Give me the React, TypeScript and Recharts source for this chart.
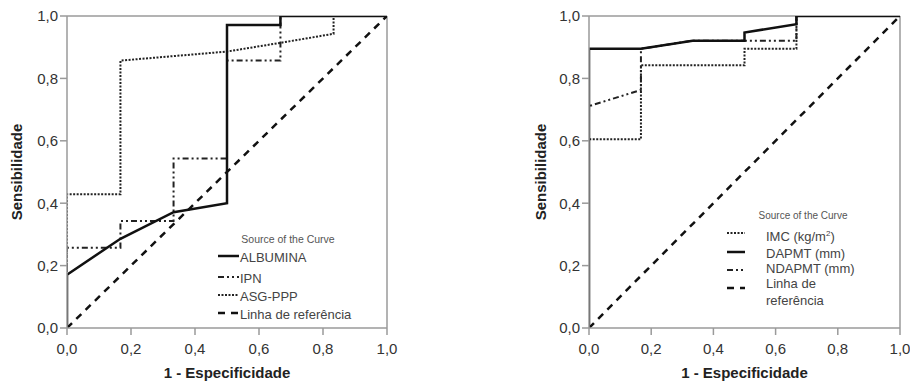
import React from 'react';
import { LineChart, Line, XAxis, YAxis, ReferenceLine, Legend } from 'recharts';

// ---- shared ticks ----
const axisTicks = [0, 0.2, 0.4, 0.6, 0.8, 1];

// ---- left panel ----
const albuminaFpr = [0, 0, 0.167, 0.333, 0.5, 0.5, 0.667, 0.667, 1];
const albuminaTpr = [0, 0.171, 0.286, 0.371, 0.4, 0.971, 0.971, 1, 1];
const ipnFpr = [0, 0, 0.167, 0.167, 0.333, 0.333, 0.5, 0.5, 0.667, 0.667, 1];
const ipnTpr = [0, 0.257, 0.257, 0.343, 0.343, 0.543, 0.543, 0.857, 0.857, 1, 1];
const asgFpr = [0, 0, 0.167, 0.167, 0.5, 0.667, 0.833, 0.833, 1];
const asgTpr = [0, 0.429, 0.429, 0.857, 0.886, 0.914, 0.943, 1, 1];
const refFpr = [0, 1];
const refTpr = [0, 1];

// ---- right panel ----
const imcFpr = [0, 0, 0.167, 0.167, 0.5, 0.5, 0.667, 0.667, 1];
const imcTpr = [0, 0.605, 0.605, 0.842, 0.842, 0.895, 0.895, 1, 1];
const dapmtFpr = [0, 0, 0.167, 0.333, 0.5, 0.5, 0.667, 0.667, 1];
const dapmtTpr = [0, 0.895, 0.895, 0.921, 0.921, 0.947, 0.974, 1, 1];
const ndapmtFpr = [0, 0, 0.167, 0.167, 0.333, 0.667, 0.667, 1];
const ndapmtTpr = [0, 0.711, 0.763, 0.895, 0.921, 0.921, 1, 1];

const legendTitle = 'Source of the Curve';
const leftLabels = ['ALBUMINA', 'IPN', 'ASG-PPP', 'Linha de referência'];
const xTitle = '1 - Especificidade';
const yTitle = 'Sensibilidade';

const zip = (xs: number[], ys: number[]) => xs.map((x, i) => ({ x, y: ys[i] }));

const FONT = '"Liberation Sans", Arial, sans-serif';
const FRAME = '#9a9a9a';

const SOLID = { stroke: '#111', strokeWidth: 2.5 };
const DOTTED = { stroke: '#222', strokeWidth: 2, strokeDasharray: '2 1.5' };
const DASHDOT = { stroke: '#222', strokeWidth: 2, strokeDasharray: '6 3 2 3 2 3' };
const DASHED = { stroke: '#111', strokeWidth: 2.5, strokeDasharray: '7 6' };

const fmt = (v: number) => v.toFixed(1).replace('.', ',');

const tickStyle = { fontSize: 15, fill: '#333', fontFamily: FONT };

const Swatch = ({ x1, x2, y, st }: any) => (
  <line x1={x1} x2={x2} y1={y} y2={y} stroke={st.stroke} strokeWidth={st.strokeWidth} strokeDasharray={st.strokeDasharray} />
);

const LeftLegend = () => {
  const styles = [SOLID, DASHDOT, DOTTED, DASHED];
  const swY = [31, 52, 70, 88];
  const txY = [37, 57.5, 75.5, 93.5];
  return (
    <svg width={170} height={100} style={{ fontFamily: FONT, overflow: 'visible' }}>
      <text x={88} y={18} textAnchor="middle" fontSize={10.5} fill="#555">{legendTitle}</text>
      {leftLabels.map((l, i) => (
        <g key={l}>
          <Swatch x1={18} x2={39} y={swY[i]} st={styles[i]} />
          <text x={40} y={txY[i]} fontSize={13} fill="#444">{l}</text>
        </g>
      ))}
    </svg>
  );
};

const RightLegend = () => {
  const styles = [DOTTED, SOLID, DASHDOT, DASHED];
  const swY = [28, 47, 65, 83];
  return (
    <svg width={180} height={110} style={{ fontFamily: FONT, overflow: 'visible' }}>
      <text x={98} y={14} textAnchor="middle" fontSize={10} fill="#555">{legendTitle}</text>
      {styles.map((s, i) => (
        <Swatch key={i} x1={22} x2={40} y={swY[i]} st={s} />
      ))}
      <text x={61} y={36} fontSize={13} fill="#444">
        IMC (kg/m<tspan dy={-5} fontSize={8}>2</tspan><tspan dy={5}>)</tspan>
      </text>
      <text x={61} y={52.5} fontSize={13} fill="#444">DAPMT (mm)</text>
      <text x={61} y={67.5} fontSize={13} fill="#444">NDAPMT (mm)</text>
      <text x={61} y={83} fontSize={13} fill="#444">Linha de</text>
      <text x={61} y={100} fontSize={13} fill="#444">referência</text>
    </svg>
  );
};

const Panel = ({ width, yAxisWidth, yTitleOffset, series, legend, legendPos }: any) => (
  <LineChart width={width} height={385} margin={{ top: 16, right: width - yAxisWidth - (width === 460 ? 320 : 311), bottom: 0, left: 0 }}>
    <XAxis
      type="number"
      dataKey="x"
      domain={[0, 1]}
      ticks={axisTicks}
      tickFormatter={fmt}
      allowDataOverflow
      height={57}
      tickSize={7}
      tickMargin={8}
      tick={tickStyle}
      axisLine={{ stroke: FRAME, strokeWidth: 1.5 }}
      tickLine={{ stroke: FRAME, strokeWidth: 1.5 }}
      label={{ value: xTitle, position: 'insideBottom', offset: 7, style: { fontSize: 15, fontWeight: 'bold', fill: '#222', fontFamily: FONT } }}
    />
    <YAxis
      type="number"
      dataKey="y"
      domain={[0, 1]}
      ticks={axisTicks}
      tickFormatter={fmt}
      allowDataOverflow
      width={yAxisWidth}
      tickSize={7}
      tickMargin={2}
      tick={tickStyle}
      axisLine={{ stroke: FRAME, strokeWidth: 1.5 }}
      tickLine={{ stroke: FRAME, strokeWidth: 1.5 }}
      label={{ value: yTitle, angle: -90, position: 'insideLeft', offset: yTitleOffset, style: { textAnchor: 'middle', fontSize: 15, fontWeight: 'bold', fill: '#222', fontFamily: FONT } }}
    />
    <ReferenceLine y={1} stroke={FRAME} strokeWidth={1.5} />
    <ReferenceLine x={1} stroke={FRAME} strokeWidth={1.5} />
    {series.map((s: any) => (
      <Line
        key={s.name}
        name={s.name}
        data={s.data}
        dataKey="y"
        type="linear"
        dot={false}
        activeDot={false}
        isAnimationActive={false}
        strokeLinecap="butt"
        {...s.style}
      />
    ))}
    <Legend
      layout="vertical"
      align="center"
      verticalAlign="middle"
      content={legend}
      wrapperStyle={{ left: legendPos.left, top: legendPos.top, width: 'auto', height: 'auto' }}
    />
  </LineChart>
);

export default function App() {
  const leftSeries = [
    { name: 'ref', data: zip(refFpr, refTpr), style: DASHED },
    { name: 'IPN', data: zip(ipnFpr, ipnTpr), style: DASHDOT },
    { name: 'ASG-PPP', data: zip(asgFpr, asgTpr), style: DOTTED },
    { name: 'ALBUMINA', data: zip(albuminaFpr, albuminaTpr), style: SOLID },
  ];
  const rightSeries = [
    { name: 'ref', data: zip(refFpr, refTpr), style: DASHED },
    { name: 'IMC', data: zip(imcFpr, imcTpr), style: DOTTED },
    { name: 'NDAPMT', data: zip(ndapmtFpr, ndapmtTpr), style: DASHDOT },
    { name: 'DAPMT', data: zip(dapmtFpr, dapmtTpr), style: SOLID },
  ];
  return (
    <div style={{ position: 'absolute', left: 0, top: 0, width: 910, height: 385, background: '#fff', overflow: 'hidden', fontFamily: FONT }}>
      <div style={{ position: 'absolute', left: 0, top: 0 }}>
        <Panel width={460} yAxisWidth={67} yTitleOffset={17} series={leftSeries} legend={<LeftLegend />} legendPos={{ left: 200, top: 225 }} />
      </div>
      <div style={{ position: 'absolute', left: 460, top: 0 }}>
        <Panel width={450} yAxisWidth={129} yTitleOffset={81} series={rightSeries} legend={<RightLegend />} legendPos={{ left: 245, top: 205 }} />
      </div>
    </div>
  );
}
